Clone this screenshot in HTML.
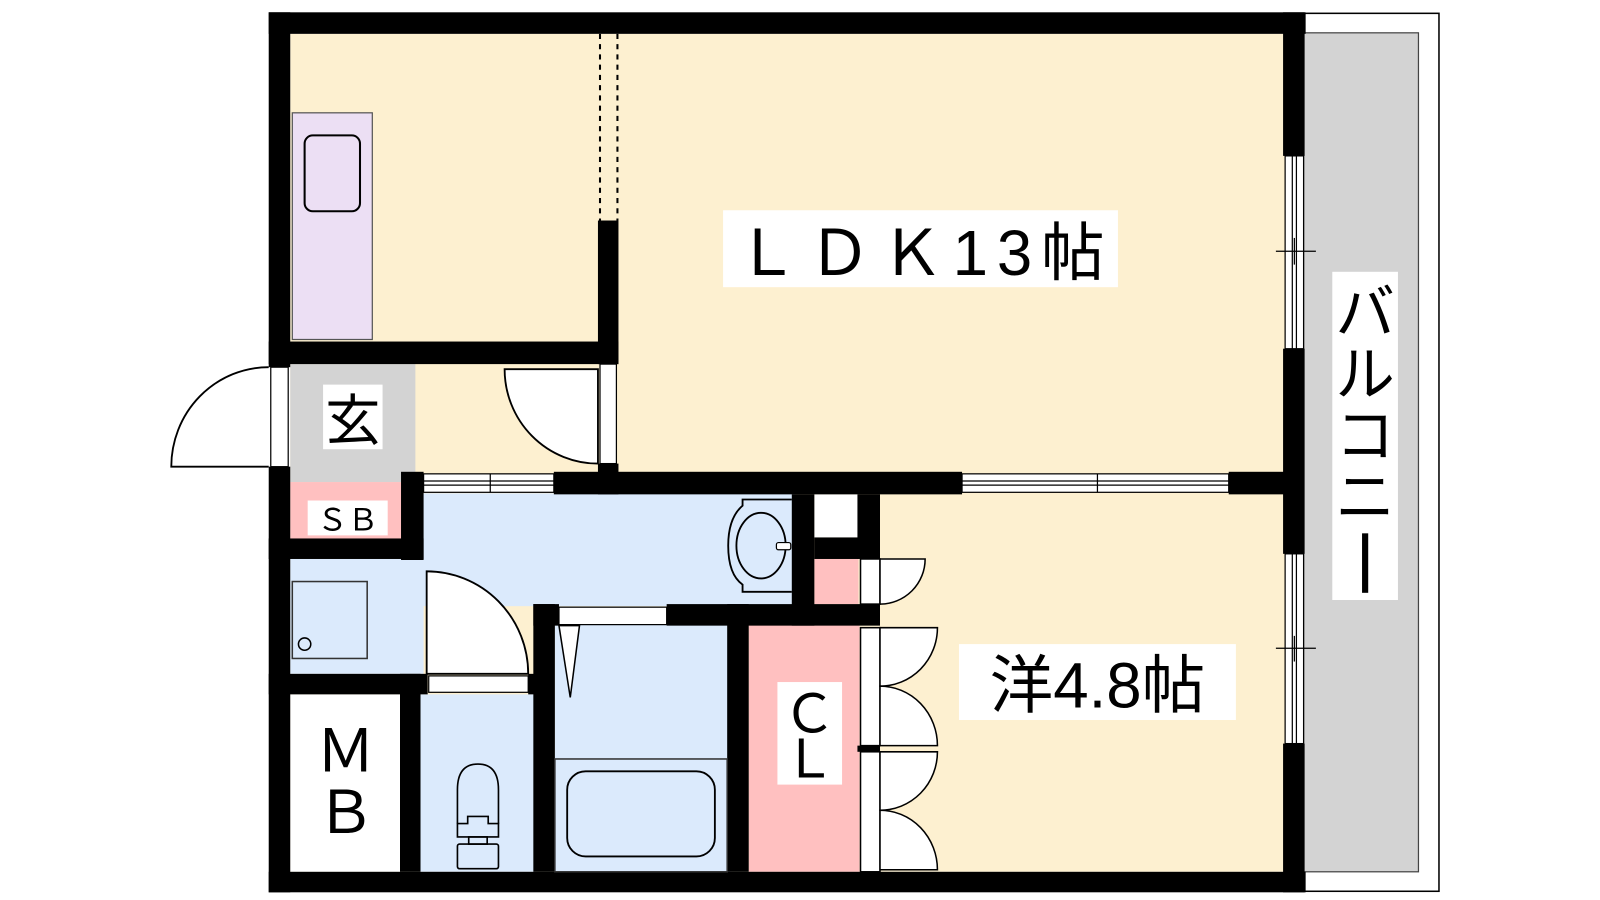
<!DOCTYPE html>
<html><head><meta charset="utf-8"><style>
html,body{margin:0;padding:0;background:#fff;width:1600px;height:900px;overflow:hidden}
svg{display:block}
text{font-family:"Liberation Sans","Noto Sans CJK JP",sans-serif;fill:#000}
</style></head><body>
<svg width="1600" height="900" viewBox="0 0 1560 877.5" preserveAspectRatio="none" xmlns="http://www.w3.org/2000/svg">
<!-- balcony -->
<rect x="1271" y="13" width="132" height="856" fill="#fff" stroke="#000" stroke-width="1.5"/>
<rect x="1271" y="32" width="112" height="818" fill="#d3d3d3" stroke="#444" stroke-width="1.2"/>
<!-- room fills -->
<rect x="283" y="33" width="970" height="817" fill="#fdf0d0"/>
<rect x="283" y="355" width="122" height="115" fill="#d3d3d3"/>
<rect x="283" y="470" width="110" height="56" fill="#ffc0c0"/>
<rect x="410" y="481" width="365" height="110" fill="#dbeafc"/>
<rect x="283" y="545" width="130" height="112" fill="#dbeafc"/>
<rect x="410" y="677" width="112" height="173" fill="#dbeafc"/>
<rect x="541" y="609" width="172" height="241" fill="#dbeafc"/>
<rect x="283" y="677" width="108" height="173" fill="#fff"/>
<rect x="730" y="609" width="108" height="241" fill="#ffc0c0"/>
<rect x="794" y="482" width="43" height="42" fill="#fff"/>
<rect x="794" y="545" width="43" height="44" fill="#ffc0c0"/>
<!-- kitchen counter -->
<rect x="285" y="110" width="78" height="221" fill="#ecdff4" stroke="#555" stroke-width="1.2"/>
<rect x="297" y="132" width="54" height="74" rx="8" fill="none" stroke="#000" stroke-width="2"/>
<!-- dashed -->
<line x1="585" y1="33" x2="585" y2="215" stroke="#000" stroke-width="2" stroke-dasharray="5,5"/>
<line x1="602" y1="33" x2="602" y2="215" stroke="#000" stroke-width="2" stroke-dasharray="5,5"/>
<!-- walls -->
<g fill="#000">
<rect x="262" y="12" width="1011" height="21"/>
<rect x="262" y="850" width="1011" height="20"/>
<rect x="262" y="12" width="21" height="346"/>
<rect x="262" y="455" width="21" height="415"/>
<rect x="1251" y="12" width="21" height="140"/>
<rect x="1251" y="340" width="21" height="200"/>
<rect x="1251" y="725" width="21" height="145"/>
<rect x="262" y="333" width="341" height="22"/>
<rect x="583" y="215" width="20" height="140"/>
<rect x="583" y="452" width="20" height="30"/>
<rect x="540" y="460" width="398" height="22"/>
<rect x="1198" y="460" width="55" height="22"/>
<rect x="391" y="460" width="22" height="86"/>
<rect x="262" y="525" width="151" height="20"/>
<rect x="772" y="482" width="22" height="128"/>
<rect x="836" y="482" width="22" height="63"/>
<rect x="794" y="524" width="43" height="21"/>
<rect x="520" y="589" width="25" height="21"/>
<rect x="650" y="589" width="208" height="21"/>
<rect x="520" y="589" width="21" height="261"/>
<rect x="709" y="589" width="21" height="261"/>
<rect x="262" y="657" width="155" height="20"/>
<rect x="515" y="657" width="6" height="20"/>
<rect x="390" y="657" width="20" height="193"/>
<rect x="836" y="727" width="22" height="6"/>
</g>
<!-- windows -->
<g fill="#fff" stroke="#000" stroke-width="1.2">
<rect x="1253" y="152" width="18" height="188"/>
<rect x="1253" y="540" width="18" height="185"/>
<rect x="938" y="462" width="260" height="18"/>
<rect x="413" y="462" width="127" height="18"/>
</g>
<g stroke="#000" stroke-width="1.2">
<line x1="1260" y1="152" x2="1260" y2="340"/><line x1="1264" y1="152" x2="1264" y2="340"/>
<line x1="1244" y1="245" x2="1283" y2="245"/><line x1="1262" y1="232" x2="1262" y2="258"/>
<line x1="1260" y1="540" x2="1260" y2="725"/><line x1="1264" y1="540" x2="1264" y2="725"/>
<line x1="1244" y1="632" x2="1283" y2="632"/><line x1="1262" y1="620" x2="1262" y2="645"/>
<line x1="938" y1="469" x2="1198" y2="469"/><line x1="938" y1="473" x2="1198" y2="473"/>
<line x1="1070" y1="462" x2="1070" y2="480"/>
<line x1="413" y1="469" x2="540" y2="469"/><line x1="413" y1="473" x2="540" y2="473"/>
<line x1="478" y1="462" x2="478" y2="480"/>
</g>
<!-- entrance door -->
<rect x="264" y="358" width="17" height="97" fill="#fff" stroke="#000" stroke-width="1.2"/>
<path d="M262 358 A95 97 0 0 0 167 455 L262 455" fill="#fff" stroke="#000" stroke-width="1.8"/>
<!-- LDK door -->
<rect x="585" y="355" width="16" height="97" fill="#fff" stroke="#000" stroke-width="1.2"/>
<path d="M583 360 L492 360 A91 92 0 0 0 583 452 Z" fill="#fff" stroke="#000" stroke-width="1.8"/>
<!-- toilet door -->
<rect x="418" y="659" width="97" height="16" fill="#fff" stroke="#000" stroke-width="1.2"/>
<path d="M416 657 L416 557 A99 100 0 0 1 515 657 Z" fill="#fff" stroke="#000" stroke-width="1.8"/>
<!-- bath door -->
<rect x="545" y="592" width="105" height="17" fill="#fff" stroke="#000" stroke-width="1.2"/>
<path d="M545 610 L565 610 L556 680 Z" fill="#fff" stroke="#000" stroke-width="1.5"/>
<!-- closet doors -->
<g fill="#fff" stroke="#000" stroke-width="1.5">
<rect x="839" y="545" width="19" height="44"/>
<path d="M858 545 L902 545 A44 44 0 0 1 858 589 Z"/>
<rect x="839" y="612" width="19" height="115"/>
<path d="M858 612 L914 612 A56 57 0 0 1 858 669 Z"/>
<path d="M858 669 A56 58 0 0 1 914 727 L858 727 Z"/>
<rect x="839" y="733" width="19" height="117"/>
<path d="M858 733 L914 733 A56 57 0 0 1 858 790 Z"/>
<path d="M858 790 A56 58 0 0 1 914 848 L858 848 Z"/>
</g>
<!-- washroom sink -->
<path d="M772 487 L724 487 L724 493 Q710 505 710 532 Q710 560 724 570 L724 577 L772 577" fill="none" stroke="#000" stroke-width="1.8"/>
<ellipse cx="742" cy="532" rx="24" ry="32" fill="none" stroke="#000" stroke-width="1.8"/>
<rect x="757" y="529" width="14" height="7" rx="2" fill="#fff" stroke="#000" stroke-width="1.2"/>
<!-- washing machine -->
<rect x="285" y="567" width="73" height="75" fill="none" stroke="#333" stroke-width="1.5"/>
<circle cx="297" cy="628" r="6" fill="none" stroke="#000" stroke-width="1.5"/>
<!-- toilet -->
<g fill="none" stroke="#000" stroke-width="1.6">
<path d="M446 803 L446 770 Q446 745 466 745 Q486 745 486 770 L486 803"/>
<path d="M446 803 L456 803 L456 796 L476 796 L476 803 L486 803 L486 816 L446 816 Z"/>
<rect x="457" y="816" width="18" height="7"/>
<rect x="446" y="823" width="40" height="24" rx="2"/>
</g>
<!-- bathtub -->
<rect x="541" y="740" width="168" height="110" fill="none" stroke="#333" stroke-width="1.5"/>
<rect x="553" y="752" width="144" height="83" rx="18" fill="none" stroke="#000" stroke-width="1.8"/>
<!-- labels -->
<rect x="705" y="205" width="385" height="75" fill="#fff"/>
<text x="897" y="268" font-size="62" text-anchor="middle" textLength="360">ＬＤＫ13帖</text>
<rect x="315" y="375" width="58" height="63" fill="#fff"/>
<text x="344" y="429" font-size="54" text-anchor="middle">玄</text>
<rect x="300" y="488" width="78" height="34" fill="#fff"/>
<text x="339" y="517" font-size="30" text-anchor="middle">ＳＢ</text>
<text x="337" y="752" font-size="58" text-anchor="middle">Ｍ</text>
<text x="337" y="812" font-size="58" text-anchor="middle">Ｂ</text>
<rect x="758" y="665" width="63" height="100" fill="#fff"/>
<text x="789" y="714" font-size="52" text-anchor="middle">Ｃ</text>
<text x="789" y="758" font-size="52" text-anchor="middle">Ｌ</text>
<rect x="935" y="628" width="270" height="74" fill="#fff"/>
<text x="1070" y="690" font-size="62" text-anchor="middle">洋4.8帖</text>
<rect x="1299" y="265" width="64" height="320" fill="#fff"/>
<text x="1331" y="325" font-size="58" text-anchor="middle">バ</text>
<text x="1331" y="385" font-size="58" text-anchor="middle">ル</text>
<text x="1331" y="445" font-size="58" text-anchor="middle">コ</text>
<text x="1331" y="505" font-size="58" text-anchor="middle">ニ</text>
<rect x="1328" y="520" width="6" height="58" fill="#000"/>
</svg>
</body></html>
